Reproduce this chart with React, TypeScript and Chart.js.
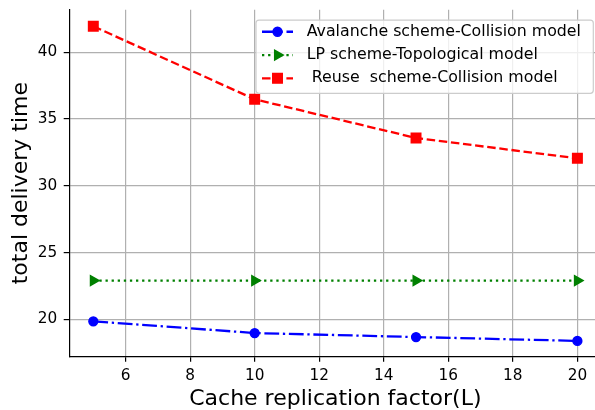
import React, { useEffect, useRef } from 'react';
import { Chart, registerables } from 'chart.js';

Chart.register(...registerables);

const xValues = [5, 10, 15, 20];
const avalancheValues = [19.85, 18.97, 18.67, 18.38];
const lpValues = [22.9, 22.9, 22.9, 22.9];
const reuseValues = [41.95, 36.48, 33.58, 32.06];
const seriesLabels = [
  'Avalanche scheme-Collision model',
  'LP scheme-Topological model',
  ' Reuse  scheme-Collision model',
];
const xTicks = [6, 8, 10, 12, 14, 16, 18, 20];
const yTicks = [20, 25, 30, 35, 40];
const xTitle = 'Cache replication factor(L)';
const yTitle = 'total delivery time';

const FONT = 'DejaVu Sans';
const BLUE = '#0000ff';
const GREEN = '#008000';
const RED = '#ff0000';

type Style = {
  color: string;
  dash: number[];
  marker: 'circle' | 'triangle' | 'rect';
  radius: number;
};

const styles: Style[] = [
  { color: BLUE, dash: [14.8, 3.7, 2.3, 3.7], marker: 'circle', radius: 4.4 },
  { color: GREEN, dash: [2.3, 3.8], marker: 'triangle', radius: 5.6 },
  { color: RED, dash: [8.5, 3.7], marker: 'rect', radius: 6.7 },
];

function drawMarker(ctx: CanvasRenderingContext2D, s: Style, x: number, y: number) {
  ctx.save();
  ctx.setLineDash([]);
  ctx.fillStyle = s.color;
  ctx.strokeStyle = s.color;
  ctx.lineWidth = 1.5;
  ctx.beginPath();
  if (s.marker === 'circle') {
    ctx.arc(x, y, s.radius, 0, Math.PI * 2);
  } else if (s.marker === 'rect') {
    const h = s.radius * Math.SQRT1_2;
    ctx.rect(x - h, y - h, 2 * h, 2 * h);
  } else {
    let rad = Math.PI / 2;
    const r = s.radius;
    ctx.moveTo(x + Math.sin(rad) * r, y - Math.cos(rad) * r);
    rad += (2 * Math.PI) / 3;
    ctx.lineTo(x + Math.sin(rad) * r, y - Math.cos(rad) * r);
    rad += (2 * Math.PI) / 3;
    ctx.lineTo(x + Math.sin(rad) * r, y - Math.cos(rad) * r);
    ctx.closePath();
  }
  ctx.fill();
  ctx.stroke();
  ctx.restore();
}

const mplLegend = {
  id: 'mplLegend',
  afterDraw(chart: any) {
    const { ctx, chartArea } = chart;
    const w = 337.3;
    const h = 73.3;
    const right = chartArea.right - 8.3;
    const top = chartArea.top + 10.2;
    const left = right - w;
    ctx.save();
    const r = 3;
    ctx.beginPath();
    ctx.moveTo(left + r, top);
    ctx.lineTo(right - r, top);
    ctx.arcTo(right, top, right, top + r, r);
    ctx.lineTo(right, top + h - r);
    ctx.arcTo(right, top + h, right - r, top + h, r);
    ctx.lineTo(left + r, top + h);
    ctx.arcTo(left, top + h, left, top + h - r, r);
    ctx.lineTo(left, top + r);
    ctx.arcTo(left, top, left + r, top, r);
    ctx.closePath();
    ctx.fillStyle = 'rgba(255,255,255,0.8)';
    ctx.fill();
    ctx.strokeStyle = '#cccccc';
    ctx.lineWidth = 1.2;
    ctx.stroke();

    const rowY = [11.7, 35, 58.3];
    seriesLabels.forEach((label, i) => {
      const s = styles[i];
      const y = top + rowY[i];
      const x0 = left + 6;
      const x1 = left + 37;
      ctx.save();
      ctx.strokeStyle = s.color;
      ctx.lineWidth = 2.3;
      ctx.setLineDash(s.dash);
      ctx.beginPath();
      ctx.moveTo(x0, y);
      ctx.lineTo(x1, y);
      ctx.stroke();
      ctx.restore();
      drawMarker(ctx, s, (x0 + x1) / 2, y);
      ctx.fillStyle = '#000';
      ctx.font = `15.8px "${FONT}"`;
      ctx.textAlign = 'left';
      ctx.textBaseline = 'middle';
      ctx.fillText(label, left + 50.7, y);
    });
    ctx.restore();
  },
};

export default function App() {
  const canvasRef = useRef<HTMLCanvasElement | null>(null);

  useEffect(() => {
    const canvas = canvasRef.current;
    if (!canvas) return;
    const series = [avalancheValues, lpValues, reuseValues];
    const datasets = series.map((vals, i) => {
      const s = styles[i];
      return {
        label: seriesLabels[i],
        data: xValues.map((x, j) => ({ x, y: vals[j] })),
        borderColor: s.color,
        backgroundColor: s.color,
        borderWidth: 2.3,
        borderDash: s.dash,
        pointStyle: s.marker,
        pointRotation: s.marker === 'triangle' ? 90 : 0,
        pointRadius: s.radius,
        pointBorderWidth: 1.5,
        pointBackgroundColor: s.color,
        pointBorderColor: s.color,
        tension: 0,
        fill: false,
      };
    });

    const tickFont = { family: FONT, size: 15.3 };
    const gridOpts = {
      color: '#b0b0b0',
      lineWidth: 1.2,
      tickColor: '#000',
      tickLength: 5.4,
      tickWidth: 1.2,
      drawTicks: true,
    };

    const chart = new Chart(canvas, {
      type: 'line',
      data: { datasets } as any,
      options: {
        animation: false,
        responsive: false,
        maintainAspectRatio: false,
        devicePixelRatio: 1,
        layout: { padding: { top: 9.85, right: 10.4, left: 0, bottom: 0 } },
        plugins: {
          legend: { display: false },
          tooltip: { enabled: false },
        },
        scales: {
          x: {
            type: 'linear',
            min: 4.25,
            max: 20.75,
            afterBuildTicks: (scale: any) => {
              scale.ticks = xTicks.map((v) => ({ value: v }));
            },
            afterFit: (scale: any) => {
              scale.height = 53.6;
              scale.paddingLeft = 0;
              scale.paddingRight = 0;
              scale.paddingTop = 0;
              scale.paddingBottom = 0;
            },
            ticks: { font: tickFont, color: '#000', padding: 5.5, maxRotation: 0, autoSkip: false },
            grid: gridOpts,
            border: { color: '#000', width: 1.2 },
            title: {
              display: true,
              text: xTitle,
              color: '#000',
              font: { family: FONT, size: 22, lineHeight: 1 },
              padding: { top: 0, bottom: 0 },
            },
          },
          y: {
            type: 'linear',
            min: 17.22,
            max: 43.18,
            afterBuildTicks: (scale: any) => {
              scale.ticks = yTicks.map((v) => ({ value: v }));
            },
            afterFit: (scale: any) => {
              scale.width = 69.1;
              scale.paddingLeft = 0;
              scale.paddingRight = 0;
              scale.paddingTop = 0;
              scale.paddingBottom = 0;
            },
            ticks: { font: tickFont, color: '#000', padding: 6.5, autoSkip: false },
            grid: gridOpts,
            border: { color: '#000', width: 1.2 },
            title: {
              display: true,
              text: yTitle,
              color: '#000',
              font: { family: FONT, size: 22, lineHeight: 1 },
              padding: { top: 9.8, bottom: 0 },
            },
          },
        },
      } as any,
      plugins: [mplLegend],
    });
    return () => chart.destroy();
  }, []);

  return (
    <div
      style={{
        position: 'absolute',
        left: 0,
        top: 0,
        width: 595,
        height: 410,
        overflow: 'hidden',
        background: '#fff',
      }}
    >
      <canvas ref={canvasRef} width={612} height={410} style={{ display: 'block' }} />
    </div>
  );
}
